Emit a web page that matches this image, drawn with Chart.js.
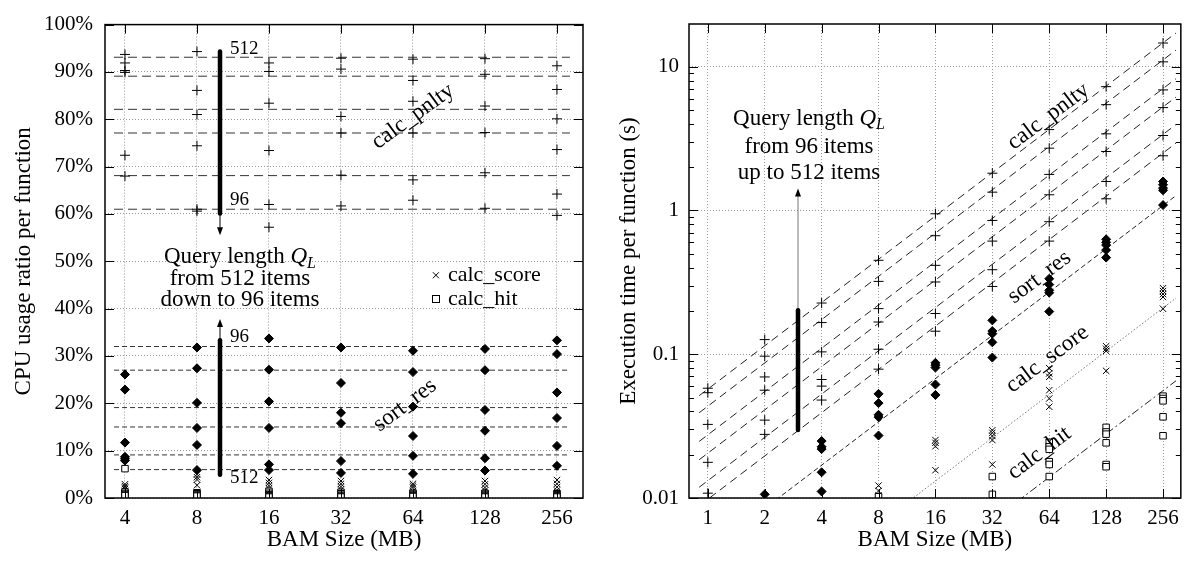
<!DOCTYPE html>
<html>
<head>
<meta charset="utf-8">
<script src="https://cdn.jsdelivr.net/npm/chart.js@4.4.1/dist/chart.umd.min.js"></script>
<style>
  body { margin: 0; background: #fff; }
  #wrap { position: relative; width: 1187px; height: 561px; }
  #left { position: absolute; left: 0; top: 0; }
  #right { position: absolute; left: 593px; top: 0; }
</style>
</head>
<body>
<div id="wrap">
  <canvas id="left" width="593" height="561"></canvas>
  <canvas id="right" width="594" height="561"></canvas>
</div>
<script>
const FONT = '"Liberation Serif", "Times New Roman", serif';

// ---- left: CPU usage ratio (%) per BAM size, one row per size (Q_L 512 ... 96)
const leftSizes = [4, 8, 16, 32, 64, 128, 256];
const leftPnlty = [
  [93.7, 91.9, 90.3, 89.9, 72.4, 68.0],
  [94.3, 86.1, 81.0, 74.4, 61.0, 60.6],
  [91.9, 90.1, 83.4, 73.4, 62.0, 57.2],
  [92.9, 90.6, 80.6, 77.1, 68.2, 61.7],
  [92.7, 88.2, 83.8, 77.1, 67.2, 62.9],
  [92.8, 89.5, 82.8, 77.2, 68.7, 61.2],
  [91.3, 86.3, 80.1, 73.6, 64.2, 59.7]
];
const leftSort = [
  [26.1, 22.9, 11.7, 8.7, 8.3, 7.9],
  [31.8, 27.4, 20.1, 14.8, 11.2, 5.9],
  [33.7, 27.1, 20.4, 14.8, 7.1, 5.9],
  [31.8, 24.3, 18.0, 15.8, 7.8, 5.3],
  [31.1, 26.6, 19.3, 13.1, 8.9, 5.1],
  [31.5, 27.0, 18.6, 14.2, 8.4, 5.8],
  [33.3, 30.4, 22.3, 16.9, 11.0, 6.8]
];
const leftScore = [
  [2.9, 2.5, 2.2, 1.9, 1.2, 0.9],
  [5.0, 4.4, 3.9, 2.7, 1.2, 0.8],
  [3.8, 3.2, 2.6, 2.0, 1.4, 0.8],
  [3.6, 3.0, 2.4, 1.8, 1.2, 0.6],
  [3.0, 2.6, 2.2, 1.4, 1.0, 0.6],
  [3.6, 2.9, 2.2, 1.6, 1.0, 0.6],
  [3.8, 3.0, 2.3, 1.6, 1.0, 0.6]
];
const leftHit = [
  [6.2, 1.3, 1.0, 0.8, 0.6, 0.5],
  [1.1, 0.9, 0.8, 0.6, 0.5, 0.4],
  [1.4, 1.0, 0.7, 0.5, 0.3, 0.2],
  [1.2, 0.9, 0.6, 0.4, 0.3, 0.2],
  [1.0, 0.8, 0.6, 0.5, 0.4, 0.3],
  [1.0, 0.8, 0.6, 0.4, 0.3, 0.2],
  [0.9, 0.7, 0.5, 0.4, 0.3, 0.2]
];
const leftPnltyAvg = [93.1, 89.1, 82.1, 77.1, 68.1, 61.0];
const leftSortAvg = [32.0, 27.0, 19.1, 15.0, 9.1, 6.0];
const leftAvgSpan = [3.6, 290];

// ---- right: execution time (s) per BAM size, only the points inside the plot
const rightSizes = [1, 2, 4, 8, 16, 32, 64, 128, 256];
const rightPnlty = [
  [0.058, 0.054, 0.0325, 0.0177, 0.0108],
  [0.1264, 0.0969, 0.0695, 0.0562, 0.0348, 0.0277],
  [0.227, 0.166, 0.1038, 0.0667, 0.060, 0.048],
  [0.450, 0.321, 0.2075, 0.1675, 0.1083, 0.0787],
  [0.948, 0.667, 0.415, 0.318, 0.192, 0.1445],
  [1.815, 1.34, 0.852, 0.612, 0.387, 0.296],
  [3.65, 2.71, 1.78, 1.285, 0.835, 0.612],
  [7.26, 5.44, 3.41, 2.57, 1.59, 1.205],
  [14.6, 10.8, 6.89, 5.19, 3.32, 2.40]
];
const rightSort = [
  [],
  [0.0106],
  [0.0249, 0.0227, 0.0219, 0.0151, 0.0111],
  [0.053, 0.0457, 0.0379, 0.0365, 0.0272],
  [0.0871, 0.0839, 0.0807, 0.0616, 0.0521],
  [0.172, 0.145, 0.139, 0.121, 0.0948],
  [0.335, 0.305, 0.278, 0.268, 0.198],
  [0.63, 0.60, 0.574, 0.530, 0.470],
  [1.59, 1.51, 1.43, 1.38, 1.09]
];
const rightScore = [
  [], [], [],
  [0.0122, 0.0112, 0.0104],
  [0.0253, 0.0242, 0.0229, 0.0156],
  [0.0296, 0.0284, 0.027, 0.0253, 0.0171],
  [0.080, 0.0735, 0.0696, 0.0562, 0.0492, 0.0431],
  [0.1137, 0.109, 0.1054, 0.0766],
  [0.288, 0.275, 0.262, 0.250, 0.207]
];
const rightHit = [
  [], [], [],
  [0.0102],
  [],
  [0.0141, 0.0106],
  [0.0244, 0.0227, 0.0218, 0.0179, 0.0171, 0.0141],
  [0.031, 0.0288, 0.0278, 0.0242, 0.0171, 0.0165],
  [0.0511, 0.0492, 0.0474, 0.0367, 0.0271]
];
// fitted lines t = a * size (seconds per MB)
const rightPnltyFit = [0.0572, 0.0435, 0.0275, 0.0205, 0.0132, 0.0098];
const rightSortFit = [0.00423];
const rightScoreFit = [0.00082];
const rightHitFit = [0.000218];
const rightFitSpan = [0.9, 300];

const leftYTicks = [0, 10, 20, 30, 40, 50, 60, 70, 80, 90, 100];
const rightYTicks = [0.01, 0.1, 1, 10];

// ---- helpers
function pts(sizes, rows) {
  return sizes.flatMap((s, i) => rows[i].map(v => ({x: s, y: v})));
}
const MARK = {
  pnlty: {pointStyle: 'cross', pointRadius: 5, pointBorderColor: '#000', pointBackgroundColor: '#000', pointBorderWidth: 1},
  sort: {pointStyle: 'rectRot', pointRadius: 4.5, pointBorderColor: '#000', pointBackgroundColor: '#000', pointBorderWidth: 1},
  score: {pointStyle: 'crossRot', pointRadius: 4.5, pointBorderColor: '#000', pointBackgroundColor: '#000', pointBorderWidth: 1},
  hit: {pointStyle: 'rect', pointRadius: 4.6, pointBorderColor: '#000', pointBackgroundColor: '#fff', pointBorderWidth: 1}
};
function marks(data, m) {
  return Object.assign({data, showLine: false, pointHoverRadius: m.pointRadius}, m);
}
function seg(p0, p1, dash, color) {
  return {data: [p0, p1], showLine: true, pointRadius: 0, borderColor: color, borderWidth: 1,
    borderDash: dash, fill: false, order: 5};
}
function hline(v, dash) {
  return seg({x: leftAvgSpan[0], y: v}, {x: leftAvgSpan[1], y: v}, dash, '#333');
}
function fit(a, dash, color) {
  return seg({x: rightFitSpan[0], y: a * rightFitSpan[0]}, {x: rightFitSpan[1], y: a * rightFitSpan[1]}, dash, color);
}

function font(size, italic) {
  return (italic ? 'italic ' : '') + size + 'px ' + FONT;
}
function label(ctx, s, x, y, size, align, rot) {
  ctx.save();
  ctx.translate(x, y);
  if (rot) ctx.rotate(rot * Math.PI / 180);
  ctx.font = font(size);
  ctx.fillStyle = '#000';
  ctx.textAlign = align || 'center';
  ctx.textBaseline = 'middle';
  ctx.fillText(s, 0, 0);
  ctx.restore();
}
function qLine(ctx, cx, cy, size) {
  const main = 'Query length ';
  ctx.save();
  ctx.fillStyle = '#000';
  ctx.textBaseline = 'middle';
  ctx.textAlign = 'left';
  ctx.font = font(size); const w1 = ctx.measureText(main).width;
  ctx.font = font(size, true); const w2 = ctx.measureText('Q').width;
  const sub = Math.round(size * 0.7);
  ctx.font = font(sub, true); const w3 = ctx.measureText('L').width;
  let x = cx - (w1 + w2 + w3) / 2;
  ctx.font = font(size); ctx.fillText(main, x, cy); x += w1;
  ctx.font = font(size, true); ctx.fillText('Q', x, cy); x += w2;
  ctx.font = font(sub, true); ctx.fillText('L', x, cy + size * 0.28);
  ctx.restore();
}
function vArrow(chart, xv, a, b, tip, thin) {
  const ctx = chart.ctx;
  const x = Math.round(chart.scales.x.getPixelForValue(xv));
  const Y = v => chart.scales.y.getPixelForValue(v);
  const ya = Y(a), yb = Y(b), yt = Y(tip), dir = Math.sign(yt - yb);
  ctx.save();
  ctx.strokeStyle = thin; ctx.lineWidth = 1;
  ctx.beginPath(); ctx.moveTo(x, yb); ctx.lineTo(x, yt - dir * 6); ctx.stroke();
  ctx.fillStyle = '#000';
  ctx.beginPath(); ctx.moveTo(x, yt); ctx.lineTo(x - 3, yt - dir * 8); ctx.lineTo(x + 3, yt - dir * 8);
  ctx.closePath(); ctx.fill();
  ctx.strokeStyle = '#000'; ctx.lineWidth = 4.5; ctx.lineCap = 'round';
  ctx.beginPath(); ctx.moveTo(x, ya); ctx.lineTo(x, yb); ctx.stroke();
  ctx.restore();
}

// gnuplot style frame with inward ticks
const frameTicks = {
  id: 'frameTicks',
  afterDatasetsDraw(chart, args, opts) {
    const {ctx, chartArea: a} = chart;
    const sx = chart.scales.x, sy = chart.scales.y;
    ctx.save();
    ctx.strokeStyle = '#000';
    ctx.lineWidth = 1;
    ctx.beginPath();
    sx.ticks.forEach(t => {
      const p = Math.round(sx.getPixelForValue(t.value)) + 0.5;
      ctx.moveTo(p, a.bottom); ctx.lineTo(p, a.bottom - 9);
      ctx.moveTo(p, a.top); ctx.lineTo(p, a.top + 9);
    });
    const yt = (v, len) => {
      const p = Math.round(sy.getPixelForValue(v)) + 0.5;
      ctx.moveTo(a.left, p); ctx.lineTo(a.left + len, p);
      ctx.moveTo(a.right, p); ctx.lineTo(a.right - len, p);
    };
    sy.ticks.forEach(t => yt(t.value, 9));
    (opts.minor || []).forEach(v => yt(v, 5));
    ctx.stroke();
    ctx.lineWidth = 1.5;
    ctx.strokeRect(a.left, a.top, a.right - a.left, a.bottom - a.top);
    ctx.restore();
  }
};

function axes(xMin, xMax, xTicks, yScale, yTitle, yTitlePad, yWidth, yPad) {
  return {
    x: {
      type: 'logarithmic', min: xMin, max: xMax,
      afterBuildTicks: s => { s.ticks = xTicks.map(v => ({value: v})); },
      afterFit: s => { s.height = 63; },
      ticks: {callback: v => String(v), font: {family: FONT, size: 21}, color: '#000',
        padding: 8, autoSkip: false, maxRotation: 0},
      grid: {color: '#9a9a9a', lineWidth: 1, drawTicks: false},
      border: {display: false, dash: [1, 2]},
      title: {display: true, text: 'BAM Size (MB)', color: '#000',
        font: {family: FONT, size: 23}, padding: {top: 0, bottom: 7}}
    },
    y: Object.assign({
      afterFit: s => { s.width = yWidth; },
      grid: {color: '#9a9a9a', lineWidth: 1, drawTicks: false},
      border: {display: false, dash: [1, 2]},
      title: {display: true, text: yTitle, color: '#000',
        font: {family: FONT, size: 23}, padding: {top: yTitlePad, bottom: 0}}
    }, yScale, {ticks: Object.assign({font: {family: FONT, size: 21}, color: '#000', padding: yPad, autoSkip: false}, yScale.ticks)})
  };
}

// ---- left chart
const leftNotes = {
  id: 'leftNotes',
  afterDraw(chart) {
    const ctx = chart.ctx;
    const X = v => chart.scales.x.getPixelForValue(v);
    const Y = v => chart.scales.y.getPixelForValue(v);
    vArrow(chart, 10, 94.3, 60.1, 55.5, '#000');
    vArrow(chart, 10, 4.9, 33.3, 37.8, '#000');
    label(ctx, '512', X(11.0), Y(94.9), 19, 'left');
    label(ctx, '96', X(11.0), Y(62.9), 19, 'left');
    label(ctx, '96', X(11.0), Y(34.0), 19, 'left');
    label(ctx, '512', X(11.0), Y(4.2), 19, 'left');
    qLine(ctx, X(12.1), Y(50.9), 23);
    label(ctx, 'from 512 items', X(12.1), Y(46.35), 23);
    label(ctx, 'down to 96 items', X(12.1), Y(41.8), 23);
    // key
    const mx = X(79.8), y1 = Y(47.05), y2 = Y(42.0);
    ctx.save();
    ctx.strokeStyle = '#000'; ctx.lineWidth = 1;
    ctx.beginPath();
    ctx.moveTo(mx - 3, y1 - 3); ctx.lineTo(mx + 3, y1 + 3);
    ctx.moveTo(mx - 3, y1 + 3); ctx.lineTo(mx + 3, y1 - 3);
    ctx.stroke();
    ctx.strokeRect(Math.round(mx) - 3.5, Math.round(y2) - 3.5, 7, 7);
    ctx.restore();
    label(ctx, 'calc_score', X(89.6), y1, 22, 'left');
    label(ctx, 'calc_hit', X(89.6), y2, 22, 'left');
    label(ctx, 'calc_pnlty', X(64), Y(80.6), 23, 'center', -36);
    label(ctx, 'sort_res', X(59.3), Y(19.6), 23, 'center', -37);
  }
};

new Chart(document.getElementById('left'), {
  type: 'scatter',
  data: {
    datasets: [
      ...leftPnltyAvg.map(v => hline(v, [9, 5])),
      ...leftSortAvg.map(v => hline(v, [5, 3])),
      marks(pts(leftSizes, leftHit), MARK.hit),
      marks(pts(leftSizes, leftScore), MARK.score),
      marks(pts(leftSizes, leftSort), MARK.sort),
      marks(pts(leftSizes, leftPnlty), MARK.pnlty)
    ]
  },
  options: {
    responsive: false, animation: false, events: [],
    layout: {padding: {top: 24, right: 10, bottom: 0, left: 0}},
    plugins: {legend: {display: false}, tooltip: {enabled: false}, frameTicks: {minor: []}},
    scales: axes(3.30, 328.9, leftSizes, {
      type: 'linear', min: 0, max: 100,
      afterBuildTicks: s => { s.ticks = leftYTicks.map(v => ({value: v})); },
      ticks: {callback: v => v + '%'}
    }, 'CPU usage ratio per function', 10, 105, 12)
  },
  plugins: [frameTicks, leftNotes]
});

// ---- right chart
const rightMinor = [];
[0.01, 0.1, 1, 10].forEach(d => { for (let k = 2; k <= 9; k++) if (d * k < 19.8) rightMinor.push(d * k); });

const rightNotes = {
  id: 'rightNotes',
  afterDraw(chart) {
    const ctx = chart.ctx;
    const X = v => chart.scales.x.getPixelForValue(v);
    const Y = v => chart.scales.y.getPixelForValue(v);
    vArrow(chart, 3, 0.0297, 0.202, 1.42, '#777');
    qLine(ctx, X(3.43), Y(4.35), 23);
    label(ctx, 'from 96 items', X(3.43), Y(2.78), 23);
    label(ctx, 'up to 512 items', X(3.43), Y(1.81), 23);
    label(ctx, 'calc_pnlty', X(63.4), Y(4.5), 23, 'center', -37);
    label(ctx, 'sort_res', X(56.8), Y(0.343), 23, 'center', -37);
    label(ctx, 'calc_score', X(62.6), Y(0.0923), 23, 'center', -37);
    label(ctx, 'calc_hit', X(56.8), Y(0.0205), 23, 'center', -37);
  }
};

new Chart(document.getElementById('right'), {
  type: 'scatter',
  data: {
    datasets: [
      ...rightPnltyFit.map(a => fit(a, [8, 5], '#222')),
      ...rightSortFit.map(a => fit(a, [5, 3], '#222')),
      ...rightScoreFit.map(a => fit(a, [1.5, 2], '#777')),
      ...rightHitFit.map(a => fit(a, [8, 3, 2, 3], '#222')),
      marks(pts(rightSizes, rightHit), MARK.hit),
      marks(pts(rightSizes, rightScore), MARK.score),
      marks(pts(rightSizes, rightSort), MARK.sort),
      marks(pts(rightSizes, rightPnlty), MARK.pnlty)
    ]
  },
  options: {
    responsive: false, animation: false, events: [],
    layout: {padding: {top: 24, right: 2, bottom: 0, left: 0}},
    plugins: {legend: {display: false}, tooltip: {enabled: false}, frameTicks: {minor: rightMinor}},
    scales: axes(0.795, 318, rightSizes, {
      type: 'logarithmic', min: 0.01, max: 19.8,
      afterBuildTicks: s => { s.ticks = rightYTicks.map(v => ({value: v})); },
      ticks: {callback: v => String(v)}
    }, 'Execution time per function (s)', 22, 96, 10)
  },
  plugins: [frameTicks, rightNotes]
});
</script>
</body>
</html>
